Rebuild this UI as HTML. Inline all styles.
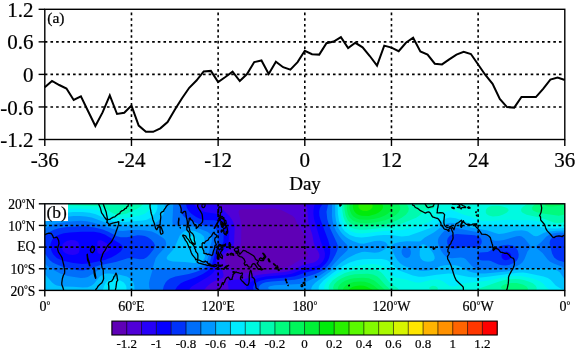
<!DOCTYPE html>
<html><head><meta charset="utf-8"><style>
html,body{margin:0;padding:0;background:#fff;}
svg{display:block;}
text{filter:grayscale(1);stroke:#000;stroke-width:0.22px;}
text[font-size="13"],text[font-size="13.6"],text[font-size="14"],text[font-size="17.5"]{stroke-width:0.2px;}
</style></head><body>
<svg width="575" height="351" viewBox="0 0 575 351">
<line x1="44.8" y1="41.85" x2="564.8" y2="41.85" stroke="#000" stroke-width="1.6" stroke-dasharray="2.6 3.05"/>
<line x1="44.8" y1="74.40" x2="564.8" y2="74.40" stroke="#000" stroke-width="1.6" stroke-dasharray="2.6 3.05"/>
<line x1="44.8" y1="106.95" x2="564.8" y2="106.95" stroke="#000" stroke-width="1.6" stroke-dasharray="2.6 3.05"/>
<line x1="131.47" y1="139.5" x2="131.47" y2="9.3" stroke="#000" stroke-width="1.6" stroke-dasharray="2.6 3.05"/>
<line x1="218.13" y1="139.5" x2="218.13" y2="9.3" stroke="#000" stroke-width="1.6" stroke-dasharray="2.6 3.05"/>
<line x1="304.80" y1="139.5" x2="304.80" y2="9.3" stroke="#000" stroke-width="1.6" stroke-dasharray="2.6 3.05"/>
<line x1="391.47" y1="139.5" x2="391.47" y2="9.3" stroke="#000" stroke-width="1.6" stroke-dasharray="2.6 3.05"/>
<line x1="478.13" y1="139.5" x2="478.13" y2="9.3" stroke="#000" stroke-width="1.6" stroke-dasharray="2.6 3.05"/>
<polyline points="44.80,87.30 52.02,81.00 59.24,85.00 66.47,88.50 73.69,100.00 80.91,96.40 88.13,111.20 95.36,126.00 102.58,112.40 109.80,95.30 117.02,114.00 124.24,112.80 131.47,105.60 138.69,125.60 145.91,131.80 153.13,131.80 160.36,128.30 167.58,122.00 174.80,109.70 182.02,98.30 189.24,87.80 196.47,80.50 203.69,71.40 210.91,70.90 218.13,82.00 225.36,77.00 232.58,71.70 239.80,81.00 247.02,74.00 254.24,62.10 261.47,60.50 268.69,74.00 275.91,61.70 283.13,67.20 290.36,69.70 297.58,62.10 304.80,50.80 312.02,54.20 319.24,54.60 326.47,43.20 333.69,41.60 340.91,37.10 348.13,48.00 355.36,42.80 362.58,47.30 369.80,56.00 377.02,65.60 384.24,45.60 391.47,47.60 398.69,51.20 405.91,42.80 413.13,37.80 420.36,51.40 427.58,54.60 434.80,63.70 442.02,64.40 449.24,59.40 456.47,54.60 463.69,51.90 470.91,54.00 478.13,64.50 485.36,75.00 492.58,83.80 499.80,98.90 507.02,107.10 514.24,107.60 521.47,96.90 528.69,96.90 535.91,97.10 543.13,88.80 550.36,79.60 557.58,77.60 564.80,80.00" fill="none" stroke="#000" stroke-width="2" stroke-linejoin="miter"/>
<rect x="44.8" y="9.3" width="520.0" height="130.2" fill="none" stroke="#000" stroke-width="1.4"/>
<line x1="38.599999999999994" y1="9.30" x2="44.8" y2="9.30" stroke="#000" stroke-width="1.4"/>
<text x="33.6" y="16.90" text-anchor="end" font-size="21" font-family="Liberation Serif, serif">1.2</text>
<line x1="38.599999999999994" y1="41.85" x2="44.8" y2="41.85" stroke="#000" stroke-width="1.4"/>
<text x="33.6" y="49.45" text-anchor="end" font-size="21" font-family="Liberation Serif, serif">0.6</text>
<line x1="38.599999999999994" y1="74.40" x2="44.8" y2="74.40" stroke="#000" stroke-width="1.4"/>
<text x="33.6" y="82.00" text-anchor="end" font-size="21" font-family="Liberation Serif, serif">0</text>
<line x1="38.599999999999994" y1="106.95" x2="44.8" y2="106.95" stroke="#000" stroke-width="1.4"/>
<text x="33.6" y="114.55" text-anchor="end" font-size="21" font-family="Liberation Serif, serif">-0.6</text>
<line x1="38.599999999999994" y1="139.50" x2="44.8" y2="139.50" stroke="#000" stroke-width="1.4"/>
<text x="33.6" y="147.10" text-anchor="end" font-size="21" font-family="Liberation Serif, serif">-1.2</text>
<line x1="44.80" y1="139.5" x2="44.80" y2="146.0" stroke="#000" stroke-width="1.4"/>
<text x="44.80" y="166.6" text-anchor="middle" font-size="21" font-family="Liberation Serif, serif">-36</text>
<line x1="131.47" y1="139.5" x2="131.47" y2="146.0" stroke="#000" stroke-width="1.4"/>
<text x="131.47" y="166.6" text-anchor="middle" font-size="21" font-family="Liberation Serif, serif">-24</text>
<line x1="218.13" y1="139.5" x2="218.13" y2="146.0" stroke="#000" stroke-width="1.4"/>
<text x="218.13" y="166.6" text-anchor="middle" font-size="21" font-family="Liberation Serif, serif">-12</text>
<line x1="304.80" y1="139.5" x2="304.80" y2="146.0" stroke="#000" stroke-width="1.4"/>
<text x="304.80" y="166.6" text-anchor="middle" font-size="21" font-family="Liberation Serif, serif">0</text>
<line x1="391.47" y1="139.5" x2="391.47" y2="146.0" stroke="#000" stroke-width="1.4"/>
<text x="391.47" y="166.6" text-anchor="middle" font-size="21" font-family="Liberation Serif, serif">12</text>
<line x1="478.13" y1="139.5" x2="478.13" y2="146.0" stroke="#000" stroke-width="1.4"/>
<text x="478.13" y="166.6" text-anchor="middle" font-size="21" font-family="Liberation Serif, serif">24</text>
<line x1="564.80" y1="139.5" x2="564.80" y2="146.0" stroke="#000" stroke-width="1.4"/>
<text x="564.80" y="166.6" text-anchor="middle" font-size="21" font-family="Liberation Serif, serif">36</text>
<text x="305" y="190.4" text-anchor="middle" font-size="19" font-family="Liberation Serif, serif">Day</text>
<text x="47.2" y="23.4" font-size="15.6" font-family="Liberation Serif, serif">(a)</text>
<defs><clipPath id="mc"><rect x="44.8" y="203.8" width="520.0" height="86.59999999999997"/></clipPath></defs>
<g clip-path="url(#mc)">
<rect x="44.8" y="203.8" width="520.0" height="86.59999999999997" fill="#5f00b6"/>
<path fill="#5000d7" fill-rule="evenodd" d="M564.8,290.5 44.8,290.5 44.7,203.8 564.8,203.7 564.8,290.5Z M250.2,272.5 260.8,270.8 281.8,268.5 286.5,267.5 291.0,265.5 299.8,260.1 305.6,257.6 307.8,255.7 307.9,253.6 305.3,248.6 304.7,246.6 305.1,238.6 304.2,234.7 302.8,232.0 298.1,225.7 294.8,218.1 292.8,215.9 281.8,210.2 275.8,208.7 270.8,208.6 257.8,209.3 242.8,209.2 240.1,209.8 238.8,210.8 238.6,212.8 240.7,220.7 241.4,226.7 241.1,242.6 240.5,246.6 239.0,249.6 236.8,251.5 228.7,255.6 226.0,257.6 224.9,259.5 225.0,261.5 226.0,263.5 228.8,266.2 232.8,268.9 236.8,270.9 242.8,272.7 245.8,272.9 250.2,272.5Z"/>
<path fill="#2600f8" fill-rule="evenodd" d="M202.8,290.4 44.8,290.5 44.7,203.8 218.1,203.8 220.1,206.8 229.8,216.6 232.0,219.7 233.5,222.7 234.4,225.7 234.7,228.7 234.0,243.6 233.4,245.6 231.8,248.0 230.0,249.6 222.6,254.6 220.8,256.6 219.8,258.5 219.4,260.5 219.7,263.5 222.7,271.5 223.5,274.5 223.4,276.5 222.8,277.4 221.1,278.5 214.8,281.0 210.8,283.3 207.0,286.4 203.7,290.4 202.8,290.4Z M564.8,290.5 228.8,290.4 227.8,283.4 228.0,281.4 228.8,280.4 230.8,279.7 242.8,279.5 246.8,278.5 255.8,275.5 260.8,274.4 282.8,272.2 288.8,271.2 293.7,269.5 302.8,265.1 313.8,262.4 315.9,261.5 317.8,260.1 319.3,257.6 319.4,254.6 318.2,251.6 315.0,246.6 313.9,243.6 312.3,234.7 308.3,222.7 307.1,207.8 306.4,205.8 304.8,203.8 564.8,203.7 564.8,290.5Z"/>
<path fill="#0500ff" fill-rule="evenodd" d="M188.8,290.4 44.8,290.4 44.7,203.8 193.7,203.8 197.0,207.8 201.8,211.0 205.8,212.3 215.8,213.8 220.8,216.0 223.8,218.3 225.8,220.4 227.4,222.7 228.7,225.7 229.1,229.7 228.8,240.6 228.0,244.6 225.9,247.6 219.9,252.6 217.6,255.6 216.1,259.5 215.2,268.5 214.6,270.5 213.3,272.5 211.3,274.5 207.8,277.0 191.7,286.4 189.8,288.4 189.2,290.4 188.8,290.4Z M564.8,290.4 247.0,290.4 246.1,288.4 246.5,286.4 248.9,283.4 253.0,280.4 257.8,278.3 265.8,276.4 284.8,274.9 291.8,273.7 304.8,268.7 316.8,266.0 319.8,264.4 322.8,261.5 324.7,257.6 325.0,253.6 324.3,250.6 320.7,241.6 314.0,218.7 313.4,213.8 313.5,209.8 314.2,205.8 315.2,203.8 564.8,203.7 564.8,290.4Z M75.8,254.6 78.0,253.6 78.9,252.6 79.4,250.6 79.1,244.6 78.4,242.6 77.5,241.6 74.8,240.3 70.8,240.1 66.8,241.1 63.8,243.0 62.6,244.6 61.9,247.6 62.2,249.6 63.8,252.0 66.1,253.6 68.8,254.5 72.8,254.9 75.8,254.6Z M103.3,253.6 105.9,252.6 108.9,250.6 110.4,248.6 110.2,246.6 108.5,244.6 103.8,241.4 100.8,240.3 98.8,240.4 97.8,241.0 97.3,242.6 97.6,246.6 97.3,250.6 97.5,252.6 98.6,253.6 99.8,253.9 103.3,253.6Z"/>
<path fill="#0032fa" fill-rule="evenodd" d="M173.8,290.4 44.8,290.4 44.7,203.8 185.9,203.8 186.9,207.8 188.8,211.1 191.4,213.8 195.8,216.8 199.8,218.7 202.8,219.7 205.8,220.1 214.8,220.3 218.9,221.7 221.8,224.4 223.3,227.7 223.7,231.7 223.5,241.6 222.0,245.6 216.8,251.4 214.9,254.6 212.0,264.5 210.6,267.5 207.8,270.7 202.8,273.9 195.8,277.2 184.3,281.4 180.8,283.3 177.2,286.4 174.8,290.4 173.8,290.4Z M564.8,290.4 253.9,290.4 253.3,289.4 253.0,287.4 253.8,285.4 255.5,283.4 257.8,281.8 260.8,280.4 267.8,278.9 286.8,277.5 294.8,276.2 305.8,272.5 317.8,269.4 321.8,267.2 325.8,263.5 327.9,260.5 329.2,257.6 330.1,253.6 330.2,249.6 329.6,245.6 328.3,240.6 320.5,219.7 319.4,215.7 319.2,211.8 319.7,208.8 320.6,206.8 322.9,203.8 564.8,203.7 564.8,290.4Z M88.4,263.5 104.8,259.9 111.8,257.2 116.6,254.6 120.7,251.6 122.7,248.6 122.7,246.6 121.8,245.2 119.9,243.6 104.8,234.6 99.8,232.7 93.8,231.8 81.8,231.7 69.8,232.5 63.8,233.3 59.8,234.4 56.9,235.7 54.1,237.6 52.4,239.6 50.6,243.6 50.3,245.6 50.7,248.6 51.7,251.6 53.3,254.6 56.8,258.0 62.8,260.7 71.8,262.7 81.8,264.0 88.4,263.5Z M509.0,259.5 510.3,258.5 511.3,256.6 511.1,254.6 509.8,252.8 506.8,251.5 504.8,251.8 502.8,252.9 501.8,254.2 501.4,255.6 501.7,257.6 502.4,258.5 503.8,259.7 505.8,260.2 509.0,259.5Z"/>
<path fill="#006efa" fill-rule="evenodd" d="M161.8,290.4 44.8,290.4 44.8,253.4 49.8,260.2 52.7,262.5 55.8,264.1 61.8,266.4 70.8,268.8 77.8,270.2 82.8,270.4 87.8,269.5 99.8,265.2 115.8,262.1 127.8,258.2 131.8,257.9 139.8,259.2 143.8,258.9 146.8,257.3 149.8,254.2 154.2,248.6 155.0,245.6 153.7,242.6 151.0,239.6 147.8,237.2 144.8,235.9 141.8,235.4 137.8,235.3 126.8,237.3 120.8,237.3 116.8,236.2 108.4,231.7 102.8,229.4 94.8,227.4 86.8,226.3 79.8,226.2 69.8,226.8 62.8,227.5 57.8,228.5 54.0,229.7 50.8,231.3 47.8,233.4 44.8,236.3 44.8,203.8 179.9,203.8 180.3,208.8 181.4,212.8 183.2,215.7 185.5,217.7 191.1,220.7 198.8,224.0 203.8,225.5 211.8,226.8 213.8,227.5 215.6,228.7 217.0,230.7 217.8,233.5 218.2,238.6 218.0,241.6 217.0,244.6 212.9,251.6 209.9,261.5 207.6,265.5 203.8,268.7 195.8,272.1 188.8,274.1 175.4,276.5 170.0,278.5 167.3,280.4 165.6,282.4 163.8,286.1 162.7,290.4 161.8,290.4Z M564.8,290.4 260.0,290.4 259.1,289.4 258.7,287.4 259.7,285.4 260.8,284.4 262.8,283.3 265.8,282.3 271.8,281.4 294.8,279.7 300.8,278.4 313.8,274.4 318.8,272.5 322.4,270.5 326.3,267.5 329.2,264.5 332.2,260.5 335.5,254.6 337.2,250.6 337.9,247.6 337.7,245.6 336.7,242.6 329.8,227.7 327.2,218.7 326.5,211.8 328.3,203.8 564.8,203.7 564.8,236.3 562.8,235.5 559.8,235.2 556.3,235.7 553.8,236.6 552.2,237.6 550.6,239.6 549.8,241.6 549.6,243.6 552.1,253.6 554.2,257.6 556.7,259.5 558.7,260.5 564.8,262.3 564.8,290.4Z M456.4,248.6 464.8,247.0 474.8,247.5 477.8,247.3 479.8,246.1 481.5,243.6 481.8,241.6 481.4,239.6 480.1,237.6 478.8,236.6 474.8,235.3 456.8,234.1 451.8,234.8 449.8,235.8 447.8,238.2 447.1,240.6 447.3,243.6 448.8,246.6 450.8,248.2 452.8,248.8 456.4,248.6Z M505.7,265.5 509.8,264.8 513.8,263.1 516.9,260.5 518.4,257.6 518.7,254.6 517.8,250.6 515.8,247.5 512.8,245.4 507.8,244.7 501.8,245.6 496.1,247.6 487.8,252.1 479.8,252.6 478.8,253.4 478.2,254.6 477.8,256.6 478.5,258.5 479.4,259.5 480.8,260.3 482.8,260.6 488.8,260.4 490.8,261.0 498.4,264.5 501.8,265.3 505.7,265.5Z"/>
<path fill="#0096ff" fill-rule="evenodd" d="M190.8,268.6 183.8,269.0 168.8,268.7 152.8,269.0 152.6,268.5 155.6,258.5 157.8,255.3 165.0,247.6 165.9,245.6 166.2,243.6 165.5,240.6 163.8,238.6 156.7,233.7 151.8,231.5 145.8,230.4 138.8,229.9 131.8,230.0 122.8,230.9 118.8,230.7 92.8,222.6 86.8,221.3 80.8,220.8 69.8,221.4 56.8,223.4 49.8,225.6 44.8,228.9 44.8,203.8 173.3,203.8 172.4,221.7 172.7,223.7 173.2,224.7 173.8,225.1 175.8,225.5 181.8,224.9 186.8,225.1 194.8,226.9 207.4,231.7 210.0,233.7 211.6,236.6 211.9,238.6 211.7,241.6 209.7,248.6 208.2,257.6 206.6,261.5 204.8,263.7 201.8,265.8 196.8,267.5 190.8,268.6Z M564.8,290.4 275.9,290.4 269.9,289.4 268.3,288.4 268.1,287.4 269.8,286.3 274.8,285.2 299.8,284.0 303.8,282.9 308.8,280.8 319.8,275.4 327.2,270.5 331.7,266.5 339.8,257.6 347.2,250.6 348.2,248.6 348.0,246.6 346.7,244.6 341.8,239.5 338.8,235.6 335.8,230.7 333.8,225.7 332.5,220.7 331.9,215.7 332.1,203.8 564.8,203.7 564.8,233.0 560.8,232.6 556.8,232.8 552.8,233.5 549.5,234.7 546.4,236.6 540.8,242.5 537.0,245.6 536.1,246.6 536.0,247.6 542.8,253.3 547.6,259.5 549.8,261.5 553.6,263.5 561.6,266.5 564.8,268.8 564.8,290.4Z M508.7,268.5 512.9,267.5 516.8,266.1 519.8,264.5 522.3,262.5 524.3,259.5 527.5,251.6 530.6,247.6 530.7,246.6 530.1,245.6 524.8,238.8 521.8,236.4 519.8,236.0 516.8,236.2 503.8,240.0 498.8,240.8 494.8,240.8 491.8,239.8 485.4,234.7 480.8,232.7 465.8,230.1 456.8,228.1 452.8,227.7 448.8,228.4 444.8,230.6 441.5,233.7 438.8,237.6 438.1,239.6 437.9,242.6 439.4,247.6 441.6,251.6 443.8,254.6 445.8,256.4 447.8,257.5 451.8,258.2 460.8,257.4 463.8,258.0 465.8,259.3 471.8,266.0 474.3,267.5 477.8,268.7 481.8,269.1 491.8,268.7 501.8,269.0 508.7,268.5Z M408.6,257.6 409.8,256.4 410.8,253.9 410.9,251.6 410.3,249.6 409.7,248.6 407.8,247.4 405.8,247.1 403.8,247.7 402.6,248.6 401.6,250.6 401.6,252.6 402.2,254.6 403.7,256.6 405.1,257.6 406.8,258.0 408.6,257.6Z M149.8,290.4 44.8,290.4 44.8,263.1 46.8,265.6 49.8,267.9 60.8,273.8 67.8,275.9 80.8,277.9 84.8,277.8 87.8,276.9 97.7,270.5 100.8,269.2 104.8,268.4 109.8,268.2 122.8,269.0 151.8,268.8 152.7,269.5 149.7,279.5 148.9,283.4 149.2,287.4 150.5,290.4 149.8,290.4Z"/>
<path fill="#00c3ff" fill-rule="evenodd" d="M124.8,225.7 118.8,225.6 113.8,224.9 106.8,222.9 91.8,217.6 85.8,216.4 79.8,215.9 73.8,216.0 66.8,216.8 50.8,219.9 44.8,221.8 44.8,203.8 164.2,203.8 164.8,205.8 165.0,208.8 163.5,213.8 159.8,219.2 157.1,221.7 154.8,223.2 151.0,224.7 146.8,225.4 124.8,225.7Z M564.8,290.4 311.5,290.4 311.2,288.4 312.6,285.4 315.5,282.4 330.3,271.5 341.8,262.0 347.8,258.1 355.8,254.1 361.8,251.9 364.8,251.7 374.8,252.8 378.8,252.3 381.8,251.1 384.3,249.6 386.6,247.6 387.7,245.6 387.5,244.6 385.8,242.6 383.8,241.6 379.8,240.7 374.8,240.9 363.8,243.7 359.8,243.5 352.8,241.1 348.8,239.1 345.8,237.1 342.8,234.3 340.7,231.7 338.8,228.7 337.1,224.7 336.0,220.7 335.3,215.7 335.1,203.8 564.8,203.8 564.8,230.5 555.8,230.7 547.6,231.7 544.1,232.7 537.8,235.9 535.8,236.3 533.6,235.7 527.8,231.5 525.2,230.7 521.8,230.2 514.8,230.7 503.8,233.6 498.8,234.0 495.8,233.3 487.8,230.5 471.8,227.8 456.8,223.3 450.8,222.7 447.8,223.2 443.8,225.1 433.8,232.5 424.8,237.6 420.8,241.1 418.8,241.5 406.8,241.2 399.8,241.9 394.3,243.6 392.8,244.6 391.4,246.6 392.4,250.6 395.1,256.6 397.6,260.5 400.4,263.5 403.3,265.5 406.8,267.1 419.8,270.8 423.8,271.0 428.8,270.5 432.8,269.5 440.8,266.0 444.8,265.2 449.8,265.0 454.8,265.2 457.8,265.8 460.8,267.0 469.1,271.5 473.8,272.8 478.8,273.5 484.8,273.4 506.8,271.5 521.8,268.7 526.8,268.1 537.8,268.8 547.8,268.6 554.5,269.5 557.2,270.5 559.8,272.3 564.8,279.6 564.8,290.4Z M198.8,262.7 193.8,263.1 184.8,261.9 172.8,261.4 168.8,260.5 167.3,259.5 166.7,258.5 166.7,257.6 167.8,255.6 172.4,250.6 174.5,247.6 179.8,235.6 182.3,232.7 184.8,231.1 186.8,230.4 189.8,230.2 194.8,231.1 200.8,233.7 203.9,236.6 204.6,239.6 203.7,246.6 204.9,252.6 205.0,256.6 204.3,258.5 202.9,260.5 200.8,262.0 198.8,262.7Z M430.8,261.6 427.8,261.8 424.8,261.3 422.8,260.5 420.7,258.5 419.7,255.6 419.7,251.6 420.5,246.6 421.8,244.4 423.8,244.3 427.8,246.6 430.8,249.8 433.4,253.6 434.6,256.6 434.7,258.5 433.6,260.5 430.8,261.6Z M133.8,290.4 44.8,290.4 44.8,274.0 52.1,282.4 54.7,284.4 56.8,285.4 62.2,286.4 72.8,286.7 82.8,287.6 87.8,287.2 91.8,285.5 94.2,283.4 99.8,276.6 103.8,274.1 106.8,273.5 109.8,273.4 119.8,274.7 126.8,276.6 129.8,278.2 131.8,279.9 133.4,282.4 134.3,285.4 134.5,289.4 134.4,290.4 133.8,290.4Z"/>
<path fill="#00ebff" fill-rule="evenodd" d="M126.8,221.7 119.8,222.0 113.8,221.3 107.8,219.4 95.8,214.2 89.8,212.8 82.8,212.0 72.8,211.9 52.8,214.6 47.8,214.9 44.8,214.6 44.8,203.8 157.3,203.8 157.5,207.8 156.2,211.8 153.2,215.7 149.8,218.3 146.7,219.7 142.8,220.6 126.8,221.7Z M368.8,236.8 361.8,237.6 355.8,237.1 349.8,235.0 344.8,231.3 341.3,226.7 339.0,220.7 337.9,213.8 337.6,203.8 564.8,203.8 564.8,228.1 555.8,228.5 546.8,228.2 542.8,227.5 535.8,225.4 531.8,225.0 516.8,225.6 498.8,225.3 485.8,225.8 479.8,225.6 472.8,224.3 455.8,218.3 449.8,217.6 446.8,218.2 443.8,219.5 433.8,226.1 429.8,228.2 408.8,235.8 401.8,236.4 390.8,235.1 383.8,234.9 376.8,235.5 368.8,236.8Z M190.8,247.1 188.8,247.0 187.0,245.6 186.1,243.6 185.9,241.6 186.2,239.6 187.3,237.6 188.8,236.5 190.8,236.0 193.8,236.7 195.0,237.6 195.8,239.6 195.4,241.6 193.8,244.6 192.8,245.8 190.8,247.1Z M563.8,290.4 319.2,290.4 318.6,288.4 318.9,286.4 319.9,284.4 323.4,280.4 332.8,273.0 343.8,265.6 349.8,262.6 356.8,260.3 362.8,259.2 368.8,258.9 381.8,259.1 386.8,260.0 389.8,261.9 395.8,268.0 399.3,270.5 412.8,275.4 418.8,276.8 423.8,276.8 436.8,274.7 448.8,273.5 452.8,273.8 468.8,276.9 474.8,277.4 480.8,277.4 487.8,276.8 517.8,272.8 522.8,272.6 526.8,273.0 543.6,276.5 547.8,277.9 550.8,280.0 555.7,285.4 558.8,287.4 564.8,290.4 563.8,290.4Z M125.8,290.4 102.6,290.4 104.7,284.4 106.8,281.6 109.8,279.9 113.8,279.3 116.8,279.5 119.8,280.3 123.8,282.6 125.4,284.4 126.3,286.4 126.6,289.4 126.4,290.4 125.8,290.4Z M44.8,290.4 44.8,290.4Z"/>
<path fill="#00fae1" fill-rule="evenodd" d="M127.8,217.8 120.8,218.6 114.8,218.0 109.8,216.3 99.8,210.9 95.8,209.8 91.8,209.2 74.8,208.4 54.8,209.7 47.8,209.3 44.8,208.6 44.8,203.8 151.6,203.8 150.9,206.8 149.3,209.8 147.5,211.8 144.8,213.7 139.8,215.5 127.8,217.8Z M369.8,232.8 361.8,233.5 355.8,233.0 350.8,231.3 346.8,228.6 343.6,224.7 341.2,218.7 340.1,211.8 339.9,203.8 449.3,203.8 450.8,204.5 453.8,204.8 463.7,203.8 470.6,203.8 474.8,204.4 478.1,203.8 564.8,203.8 564.8,225.4 562.8,225.9 557.8,226.2 551.6,225.7 547.7,224.7 538.8,221.4 531.8,220.3 520.8,220.3 508.8,219.8 490.8,221.1 481.8,220.8 477.9,219.7 470.8,216.4 463.8,214.7 453.8,210.7 450.8,210.1 448.8,210.4 444.8,212.3 428.8,222.3 420.8,225.3 402.8,230.0 383.8,231.1 369.8,232.8Z M549.8,290.4 324.7,290.4 323.9,287.4 324.4,285.4 325.5,283.4 329.8,278.8 336.8,273.7 344.8,269.3 349.8,267.3 355.8,265.9 365.8,264.5 372.8,264.1 378.8,264.7 383.8,266.5 386.8,268.8 392.7,275.5 395.8,277.4 398.8,278.3 405.8,279.6 415.8,282.4 420.8,282.4 430.8,280.0 436.8,279.6 439.8,280.1 442.8,281.3 449.8,285.9 453.8,286.5 456.8,286.0 462.8,283.8 466.8,282.9 485.8,280.9 506.8,276.7 514.8,276.0 520.8,276.0 529.8,277.7 535.6,279.5 539.8,281.3 543.0,283.4 547.8,288.8 550.4,290.4 549.8,290.4Z M116.8,290.4 114.4,290.4 114.4,289.4 114.8,288.8 116.1,288.4 117.2,289.4 116.8,290.4Z"/>
<path fill="#00faaf" fill-rule="evenodd" d="M120.8,214.8 116.8,214.6 113.8,213.7 110.3,211.8 104.8,207.7 102.8,206.8 99.8,206.2 62.8,205.3 44.8,203.8 143.6,203.8 140.4,206.8 135.1,209.8 126.8,213.5 120.8,214.8Z M365.8,229.7 359.8,229.8 354.8,229.0 350.8,227.4 347.4,224.7 344.8,220.8 343.3,216.7 342.3,210.8 342.1,203.8 420.4,203.8 422.8,204.2 423.9,203.8 434.8,203.8 435.2,205.8 434.9,206.8 432.8,208.7 424.8,210.6 419.1,215.7 416.2,217.7 400.8,224.0 395.7,225.7 389.8,226.9 365.8,229.7Z M561.8,222.8 557.8,223.1 554.5,222.7 541.8,218.1 526.6,214.7 522.6,212.8 521.5,211.8 521.0,209.8 521.3,208.8 522.9,206.8 527.5,203.8 564.8,203.8 564.8,221.8 561.8,222.8Z M498.8,215.9 492.8,216.4 488.8,215.6 486.8,214.3 485.8,212.8 485.9,209.8 487.4,207.8 489.0,206.8 491.8,206.0 494.8,205.7 498.9,205.8 502.8,206.4 506.6,207.8 507.9,208.8 508.6,209.8 508.5,210.8 506.6,212.8 502.6,214.7 498.8,215.9Z M398.8,290.4 329.3,290.4 328.5,287.4 329.4,284.4 332.8,280.3 337.8,276.7 344.8,273.1 349.8,271.4 354.8,270.4 371.8,269.1 376.8,269.9 380.8,272.0 383.3,274.5 388.8,281.5 391.8,284.2 397.8,288.3 399.3,290.4 398.8,290.4Z M535.8,290.4 478.1,290.4 478.8,289.1 481.9,287.4 499.2,281.4 506.8,279.6 514.8,279.0 519.8,279.3 523.8,280.0 528.6,281.4 532.8,283.3 535.5,285.4 536.7,287.4 536.6,289.4 535.8,290.4Z M436.8,290.0 433.8,290.4 430.8,289.7 429.2,288.4 429.4,287.4 430.7,286.4 432.8,285.8 435.8,286.2 437.4,287.4 437.9,288.4 437.8,289.4 436.8,290.0Z"/>
<path fill="#00fa7d" fill-rule="evenodd" d="M374.8,225.7 366.8,226.4 359.8,226.3 354.8,225.3 350.8,223.3 347.8,220.2 345.7,215.7 344.5,209.8 344.4,203.8 405.9,203.8 407.8,205.8 408.9,208.8 408.2,211.8 405.8,214.7 401.6,217.7 396.0,220.7 390.8,222.7 383.8,224.4 374.8,225.7Z M558.8,215.8 542.8,213.5 536.8,212.3 533.4,210.8 532.4,209.8 532.0,207.8 533.2,205.8 535.9,203.8 564.8,203.8 564.8,214.6 558.8,215.8Z M390.8,290.4 333.7,290.4 333.1,287.4 334.1,284.4 336.8,281.5 340.8,278.8 345.8,276.5 349.8,275.2 354.8,274.3 367.8,273.8 373.0,274.5 377.2,276.5 379.8,278.8 385.7,285.4 391.5,290.4 390.8,290.4Z M526.8,290.4 507.0,290.4 502.8,289.1 501.5,288.4 501.0,287.4 501.4,286.4 502.5,285.4 506.8,283.6 511.8,282.9 516.8,283.0 522.8,284.4 526.5,286.4 527.9,288.4 527.6,290.4 526.8,290.4Z"/>
<path fill="#00f55a" fill-rule="evenodd" d="M372.8,222.7 366.8,223.2 360.8,223.0 356.8,222.3 352.8,220.5 349.8,217.7 347.8,213.8 346.8,208.8 346.8,203.8 398.6,203.8 400.2,206.8 400.1,209.8 398.2,212.8 394.8,215.7 390.8,218.0 385.8,220.1 379.8,221.6 372.8,222.7Z M559.8,205.8 552.8,206.5 547.8,206.4 545.8,205.8 544.7,204.8 544.3,203.8 564.8,203.8 562.8,205.0 559.8,205.8Z M384.8,290.4 338.0,290.4 337.8,288.4 338.4,286.4 339.8,284.4 342.1,282.4 345.8,280.5 349.8,279.1 353.8,278.2 362.8,277.7 368.8,278.3 373.8,280.3 376.8,282.5 385.6,290.4 384.8,290.4Z"/>
<path fill="#00f037" fill-rule="evenodd" d="M367.8,219.8 359.8,219.4 356.8,218.5 353.7,216.7 351.8,214.7 350.0,210.8 349.4,207.8 349.6,203.8 391.5,203.8 392.3,206.8 391.9,208.8 390.0,211.8 387.7,213.8 384.4,215.7 379.3,217.7 373.8,219.1 367.8,219.8Z M379.8,290.4 342.6,290.4 343.8,287.3 345.7,285.4 347.8,284.1 353.8,282.1 359.8,281.4 364.8,281.8 369.8,283.3 373.8,285.6 379.8,290.4Z"/>
<path fill="#00eb0a" fill-rule="evenodd" d="M368.8,215.9 361.8,215.8 358.8,215.0 356.5,213.8 354.8,212.1 353.5,209.8 352.8,206.8 353.1,203.8 382.2,203.8 383.1,206.8 382.5,208.8 381.0,210.8 378.3,212.8 375.8,214.0 368.8,215.9Z M372.8,290.4 348.1,290.4 350.0,288.4 352.8,286.8 355.8,285.9 359.8,285.5 363.8,285.8 366.8,286.7 373.8,290.4 372.8,290.4Z"/>
<path fill="#28f000" fill-rule="evenodd" d="M366.8,210.9 362.8,210.8 359.8,209.3 358.3,206.8 358.7,203.8 371.7,203.8 372.7,205.8 372.3,207.8 370.2,209.8 366.8,210.9Z M361.8,290.4 359.1,290.4 362.5,290.4 361.8,290.4Z"/>
<path d="M44.8,235.0 46.5,233.9 48.7,233.2 51.3,233.5 52.7,235.6 53.5,237.8 54.9,237.6 56.8,237.1 57.8,238.7 58.7,240.8 59.0,243.9 58.2,246.2 57.5,248.8 58.5,252.1 60.8,255.5 62.1,257.9 62.6,260.3 63.9,265.5 64.2,267.7 64.7,270.5 64.6,273.1 63.4,275.2 62.4,278.5 61.8,282.8 61.8,284.6 62.9,287.4 64.0,291.5 64.4,293.6 M540.1,200.6 540.2,202.1 541.1,204.9 541.7,207.9 541.4,210.3 541.0,212.5 540.1,214.6 539.5,215.3 540.5,216.8 540.7,220.0 541.0,220.5 542.4,222.0 543.9,223.7 544.9,225.4 545.4,227.2 546.0,228.9 547.2,230.9 548.6,232.4 550.6,234.5 552.7,237.1 554.0,237.6 556.1,236.3 559.0,235.8 561.2,236.3 562.2,236.7 563.4,235.6 564.8,235.0 M98.2,200.6 98.5,203.8 100.4,208.1 101.6,212.9 102.9,214.6 104.3,216.8 105.9,219.0 107.2,220.3 107.3,221.3 106.6,222.2 107.6,222.6 109.1,224.6 110.5,223.9 112.7,223.1 114.9,222.6 117.0,222.2 118.8,221.6 118.6,224.4 118.2,225.4 117.6,227.6 116.3,230.9 115.3,234.1 114.1,236.7 112.7,239.5 111.2,242.1 109.8,243.4 107.6,245.8 106.2,248.2 104.9,250.6 103.7,252.1 102.7,254.0 102.0,256.6 101.4,257.7 100.8,261.2 101.7,262.7 101.6,265.1 102.1,267.7 103.2,269.8 103.3,271.6 103.4,275.2 103.6,278.5 103.2,280.0 101.9,282.8 99.7,284.6 98.2,285.9 97.1,287.8 95.8,289.5 95.1,291.0 95.6,293.6 M102.3,200.6 103.2,203.8 104.3,207.0 105.5,210.3 106.3,212.5 106.6,214.6 107.1,216.8 107.3,218.7 107.6,219.6 109.1,219.4 109.8,219.4 111.2,218.3 113.4,217.2 114.9,216.8 116.3,215.5 117.7,214.4 119.9,213.3 120.3,212.0 121.6,210.9 123.2,210.3 124.5,209.4 125.1,208.3 126.3,208.3 126.8,206.8 128.1,206.2 128.3,204.2 129.3,202.7 130.7,199.9 M121.8,219.8 122.8,219.6 123.5,220.0 122.5,220.5 121.8,219.8 M114.7,293.6 115.0,291.5 115.4,289.8 116.0,287.2 116.4,283.9 116.7,281.7 117.7,280.4 117.3,278.5 116.9,275.2 116.0,273.1 115.4,274.2 114.9,275.9 114.0,276.5 113.4,278.5 112.7,279.6 111.7,281.1 110.5,281.5 108.9,282.2 108.4,283.9 108.8,286.1 108.9,289.3 108.4,291.5 107.9,293.6 M90.7,249.3 91.5,246.7 92.8,246.2 94.1,247.1 94.1,248.2 94.6,249.7 93.6,251.6 92.5,252.7 91.0,252.1 90.4,250.3 90.7,249.3 M87.0,254.2 87.3,256.8 87.6,260.1 88.1,261.2 88.9,262.7 89.3,265.1 89.9,265.7 89.6,264.0 89.1,262.3 88.7,260.7 88.0,259.0 87.6,256.8 87.3,254.2 87.0,254.2 M94.2,267.7 94.5,269.8 94.8,272.0 95.2,274.2 95.8,277.4 95.6,278.3 94.8,276.3 94.3,274.2 94.1,272.0 93.9,269.8 93.8,267.9 94.2,267.7 M149.7,201.0 150.0,202.9 150.1,204.9 150.0,206.2 150.2,208.1 150.7,210.3 151.0,212.5 151.4,214.0 152.0,215.7 152.4,217.2 152.8,219.4 153.4,221.1 154.3,223.3 155.0,225.9 155.4,227.8 156.5,229.6 156.9,229.6 157.8,227.8 158.0,227.0 159.2,227.0 159.3,224.8 160.1,224.8 160.2,222.2 160.6,219.0 160.8,216.8 160.5,214.2 160.8,212.9 162.1,211.8 163.7,211.2 164.0,209.9 165.3,208.1 166.4,206.4 167.7,204.9 169.6,203.8 170.3,202.1 170.5,200.6 M160.2,225.9 160.8,226.5 161.7,228.5 162.4,230.6 163.0,232.2 162.7,233.5 161.2,234.3 160.4,233.0 160.1,230.9 160.1,229.1 160.2,225.9 M177.7,200.6 178.1,202.3 179.0,203.8 180.0,205.3 180.9,207.7 181.3,209.6 181.0,212.5 181.4,212.7 182.6,213.1 183.5,211.8 184.6,211.4 185.5,211.4 185.9,213.3 186.1,215.7 186.5,217.9 187.2,220.5 187.4,223.3 187.1,225.4 186.8,227.6 186.8,229.6 187.2,230.2 188.4,231.5 189.4,233.0 189.7,235.2 189.8,237.4 190.4,238.9 191.1,240.6 192.0,242.3 193.3,243.2 194.3,244.3 195.3,244.1 194.9,242.1 194.3,240.2 194.2,238.0 193.9,236.3 192.9,234.1 191.8,233.0 190.7,232.2 189.8,230.9 189.5,229.1 189.1,227.2 188.1,227.0 188.1,224.4 188.7,222.2 189.1,220.3 189.2,218.5 190.0,217.9 190.5,218.5 190.5,219.6 191.4,219.8 192.4,220.7 193.0,221.8 193.4,222.9 193.9,223.9 194.4,224.4 195.6,224.6 196.2,226.1 196.2,228.5 196.8,228.0 198.3,226.5 199.1,224.6 200.2,224.4 201.5,223.1 202.5,221.8 202.7,220.0 202.5,217.2 202.1,214.2 201.2,212.5 200.1,210.7 198.8,208.6 197.8,206.8 197.6,205.3 198.3,203.2 199.1,202.1 200.1,200.6 M203.1,200.3 203.5,201.6 203.8,202.7 204.1,203.4 204.6,203.2 204.4,201.2 205.9,200.3 M201.7,205.7 202.4,207.3 203.1,207.7 204.1,207.3 205.0,206.0 205.1,204.4 204.6,203.6 203.3,203.8 202.0,204.7 201.7,205.7 M178.8,217.7 179.1,219.4 178.7,221.1 178.6,222.6 178.7,224.2 178.4,224.4 178.3,222.4 178.6,220.0 178.8,217.7 M180.3,227.2 180.4,228.0 180.1,227.8 180.3,227.2 M182.5,235.0 183.3,235.2 185.6,235.8 186.8,237.8 188.8,240.2 190.1,242.6 191.1,242.8 192.1,243.9 193.4,245.4 194.7,247.1 194.6,248.4 195.5,249.5 195.7,251.4 196.5,252.3 197.6,253.6 197.9,255.8 197.8,259.7 196.9,259.2 195.9,259.9 195.0,257.9 193.6,256.4 192.4,254.9 191.3,252.7 190.4,250.1 189.7,248.2 188.8,246.7 187.9,244.5 187.4,243.2 186.5,241.5 185.6,240.6 184.8,239.1 183.9,237.4 182.7,235.8 182.5,235.0 M196.8,261.8 197.9,260.1 199.1,260.1 200.2,260.5 201.5,261.4 203.0,261.8 204.4,262.0 205.1,261.0 206.1,261.8 207.4,262.0 207.7,263.3 208.9,263.8 210.0,264.0 210.3,265.9 208.7,265.1 207.3,265.3 205.1,264.6 203.7,264.4 201.8,263.8 200.1,263.3 198.6,263.1 197.2,262.0 196.8,261.8 M210.2,264.6 211.9,265.3 211.2,266.2 210.2,265.3 210.2,264.6 M212.4,265.3 213.4,265.1 213.2,266.4 212.4,266.2 212.4,265.3 M213.5,265.5 215.0,264.6 216.7,265.1 217.0,265.9 215.7,266.4 214.1,266.6 213.5,265.5 M217.8,265.5 219.3,265.1 221.0,265.3 222.5,264.9 222.2,265.7 220.3,266.4 218.4,266.2 217.8,265.5 M216.7,267.9 218.1,267.5 219.3,269.0 218.4,269.4 217.0,268.3 216.7,267.9 M223.2,269.4 224.6,267.7 226.1,266.2 228.7,265.3 227.5,266.4 225.4,267.9 223.9,269.4 223.2,269.4 M202.2,243.0 203.1,242.6 204.3,243.4 205.4,241.5 206.4,240.8 208.0,240.2 209.3,237.8 210.3,237.1 211.5,236.1 212.4,234.3 213.4,232.6 214.1,232.2 214.8,234.1 215.7,234.5 217.1,235.8 216.0,237.4 215.0,238.0 214.7,240.0 215.2,242.1 216.5,244.9 215.1,245.4 214.5,247.1 214.4,248.8 213.5,250.8 213.1,252.5 212.6,254.7 211.6,255.5 210.3,254.9 208.7,254.2 207.3,254.5 206.1,253.4 205.1,253.6 204.0,253.4 203.8,251.0 203.0,249.3 202.4,247.7 202.1,246.2 202.2,243.0 M217.4,259.0 217.3,256.8 217.6,254.7 216.4,253.2 216.7,251.4 217.1,249.7 217.8,247.1 218.3,245.4 219.4,244.3 221.0,244.9 222.8,245.2 224.3,244.9 225.6,243.9 225.2,246.0 224.2,246.2 222.6,246.0 221.0,246.0 219.6,246.0 218.6,246.5 218.3,248.2 219.1,249.9 220.3,249.0 221.5,248.8 223.0,249.0 222.2,250.3 221.0,251.4 220.3,253.2 221.5,254.7 222.5,256.4 222.2,258.6 221.3,257.5 220.4,257.3 219.9,255.8 219.4,254.7 218.7,253.6 218.7,255.8 218.9,259.0 217.4,259.0 M229.5,242.3 230.1,243.9 230.7,244.9 230.0,245.8 230.7,246.5 229.7,247.5 230.3,248.8 229.3,248.0 229.1,246.0 229.0,243.9 229.5,242.3 M229.7,254.0 231.1,253.2 233.3,253.8 233.7,255.3 231.9,254.7 230.4,254.9 229.7,254.0 M226.8,254.2 227.7,253.6 228.5,254.5 228.0,255.3 226.9,255.1 226.8,254.2 M219.0,207.0 219.9,206.8 221.3,207.0 221.5,210.3 221.7,212.0 220.4,212.9 220.4,215.5 221.0,216.8 222.2,216.4 222.9,217.2 223.9,217.9 224.1,219.8 223.2,219.2 222.9,218.7 221.9,218.5 220.7,217.2 219.6,217.4 219.0,216.4 219.0,215.3 218.1,214.8 217.8,212.0 218.6,212.2 218.7,209.2 219.0,207.0 M218.6,217.9 219.9,218.1 220.4,220.0 219.9,220.7 219.3,220.0 218.6,217.9 M224.3,219.8 225.8,220.5 226.2,223.3 225.4,223.3 225.6,225.0 224.9,225.4 224.5,223.7 224.3,222.2 224.3,219.8 M220.9,221.3 222.3,222.2 222.6,223.3 221.7,224.2 220.9,224.4 220.9,221.3 M222.3,223.5 223.2,224.4 222.8,227.6 221.7,227.0 221.6,225.4 222.3,223.5 M222.9,222.9 223.9,224.4 223.2,226.5 222.9,222.9 M220.9,231.9 221.5,230.0 222.5,230.4 223.2,229.8 223.8,228.5 224.8,228.7 226.1,226.1 226.9,227.0 227.4,229.8 227.7,231.9 227.1,233.5 226.4,231.3 225.8,234.1 226.4,235.0 224.9,234.3 223.9,233.0 223.9,231.1 223.3,230.2 222.5,230.9 221.5,232.2 220.9,231.9 M214.1,228.9 215.2,227.2 216.3,225.7 217.1,224.6 217.7,222.6 217.4,222.6 216.5,224.4 215.4,226.1 214.2,228.3 214.1,228.9 M234.0,250.1 235.3,248.4 236.6,248.0 238.4,249.0 238.6,251.9 239.8,254.2 241.8,252.1 243.3,250.3 245.3,250.8 247.0,252.1 248.5,252.7 250.6,254.0 252.7,255.3 253.5,255.8 254.7,257.1 255.4,259.0 256.6,260.1 258.0,260.3 258.4,261.6 257.1,263.1 258.0,264.4 259.0,265.9 260.5,266.8 261.0,268.3 262.8,269.4 261.6,270.0 260.2,269.4 258.0,269.0 256.4,266.4 254.7,264.0 253.1,263.6 251.9,264.9 251.6,266.6 250.8,267.2 248.5,266.8 246.9,264.6 245.0,265.3 244.1,263.3 245.1,261.8 244.1,259.2 242.0,257.1 240.1,256.6 238.2,255.5 237.6,253.6 235.9,252.9 236.5,251.9 238.2,252.1 237.5,251.2 235.5,251.4 234.3,250.3 234.0,250.1 M259.0,259.0 260.7,257.9 262.6,259.0 263.6,257.7 264.6,256.4 264.6,257.9 263.5,260.5 261.8,260.5 260.0,260.3 259.0,259.0 M262.5,252.9 264.4,254.2 265.8,256.8 265.4,257.7 264.1,255.3 262.5,252.9 M268.1,258.4 269.1,259.2 270.0,261.8 269.1,261.6 268.3,259.9 268.1,258.4 M275.3,267.2 276.6,267.5 277.1,268.5 275.8,268.3 275.3,267.2 M276.8,265.3 277.6,266.4 278.1,268.1 277.2,267.2 276.8,265.3 M273.3,263.3 274.5,264.2 275.6,265.5 274.9,265.3 273.7,264.2 273.3,263.3 M277.8,269.2 279.4,270.0 278.8,270.5 277.9,269.8 277.8,269.2 M285.4,278.7 286.3,279.6 286.2,280.9 285.6,280.7 285.4,278.7 M286.3,281.5 287.2,282.4 286.9,283.0 286.5,282.4 286.3,281.5 M287.8,285.0 288.3,285.2 288.2,285.6 287.8,285.4 287.8,285.0 M300.8,285.2 301.9,284.6 302.9,285.4 302.6,286.5 301.3,286.5 300.8,285.2 M302.6,283.3 303.8,282.4 304.8,282.0 304.5,283.0 303.4,283.7 302.6,283.3 M315.2,276.3 316.1,276.3 316.4,277.0 315.6,277.0 315.2,276.3 M339.6,204.4 339.9,205.7 340.0,206.2 341.1,205.3 341.2,204.7 340.6,203.4 339.8,203.2 339.6,204.4 M281.1,290.6 282.1,291.0 283.9,293.2 285.3,295.2 284.6,295.4 282.4,293.0 281.1,290.6 M212.4,292.1 213.8,291.7 215.2,291.0 216.7,290.4 218.9,289.5 220.3,287.6 221.3,286.1 221.7,284.6 222.5,282.6 223.3,284.6 223.8,282.6 224.5,282.2 225.1,280.2 226.1,278.5 227.2,277.4 228.5,277.2 229.5,278.7 230.1,279.6 231.1,279.4 232.0,279.4 232.3,277.4 233.0,275.7 232.9,274.8 233.7,273.9 234.5,273.3 235.5,272.2 236.3,272.0 237.2,272.6 238.2,272.6 239.5,273.1 240.8,273.5 242.0,272.9 242.5,273.7 242.0,275.7 241.1,275.9 240.5,277.4 240.5,279.1 241.8,280.7 243.0,281.7 244.6,283.5 246.0,284.8 247.0,285.4 248.2,284.8 249.0,282.6 249.3,279.6 249.2,276.8 249.5,274.4 249.9,272.0 250.6,270.3 251.1,270.9 251.5,272.9 251.9,274.6 252.2,277.4 253.5,277.8 254.7,279.6 254.8,282.2 255.5,283.7 255.8,285.9 256.1,288.0 257.6,289.1 259.0,290.4 259.7,291.3 260.5,292.6 M232.6,272.2 233.3,271.6 234.7,271.8 234.5,272.6 233.2,272.6 232.6,272.2 M241.8,277.2 242.5,277.0 242.4,277.8 241.8,277.6 241.8,277.2 M412.4,200.6 412.1,202.9 412.7,205.1 414.1,205.7 415.3,207.5 417.5,208.3 420.5,210.7 423.2,212.0 425.4,213.1 427.3,212.2 429.0,212.0 430.5,213.3 431.6,215.5 432.6,216.8 435.5,217.9 437.7,218.5 438.4,219.0 439.9,221.1 441.0,223.1 441.0,224.4 440.9,225.4 442.0,225.9 442.6,226.3 444.0,228.7 444.9,229.3 446.4,229.3 447.8,230.6 448.7,231.3 449.2,230.9 448.5,229.6 450.0,227.8 451.4,228.5 451.7,230.0 452.4,231.5 453.0,233.0 452.9,235.2 453.1,237.8 452.7,239.5 451.3,241.9 450.8,243.6 449.2,245.4 448.7,248.0 447.9,249.5 447.9,251.9 449.4,252.5 448.8,254.5 447.5,256.4 447.7,259.0 449.0,261.2 450.0,263.3 451.4,266.6 452.6,270.5 453.4,273.3 454.7,277.0 456.2,280.2 458.8,282.8 461.7,285.4 463.3,287.2 463.4,290.4 463.5,292.6 M424.0,200.6 424.8,203.2 426.0,205.5 427.1,207.0 428.3,207.7 431.2,206.8 432.9,206.6 434.1,204.2 434.2,201.6 M439.1,200.6 438.4,203.4 438.0,207.0 437.4,209.2 437.3,212.0 437.0,212.9 438.4,212.9 440.6,212.7 443.0,212.9 444.6,214.6 444.2,217.9 443.9,221.1 443.9,223.3 444.6,225.4 445.6,226.5 447.1,227.6 449.2,227.0 450.7,226.3 452.1,227.2 453.3,228.5 453.9,229.8 454.7,227.0 455.7,224.4 456.8,223.3 458.6,222.6 460.5,221.1 461.4,220.3 462.1,221.6 461.5,223.3 461.4,223.7 462.1,223.3 463.0,222.2 463.4,220.7 464.0,222.2 466.3,224.4 468.7,224.2 470.9,225.2 472.4,224.2 475.2,223.9 474.5,225.0 476.7,227.6 478.1,228.9 480.3,231.9 481.7,234.1 485.4,234.3 486.8,234.8 489.0,236.3 490.4,237.8 491.1,240.6 491.9,243.2 492.6,244.9 492.6,247.1 493.3,248.2 494.7,248.8 496.2,248.4 498.4,249.3 500.5,252.1 502.7,252.5 504.9,253.4 507.0,253.2 509.2,255.1 511.1,257.5 513.5,258.4 514.0,259.7 514.4,262.3 514.4,264.4 513.8,266.6 513.2,268.1 512.1,270.0 511.1,271.6 509.2,275.2 508.5,277.4 508.5,280.7 508.2,283.9 507.5,287.2 507.0,289.3 506.3,291.5 505.9,293.6 M461.2,223.7 461.7,225.0 462.0,226.5 461.4,227.4 460.8,227.0 460.7,225.4 461.2,223.7 M493.4,247.5 494.7,247.3 494.6,249.3 493.3,250.6 492.9,249.3 493.4,247.5 M444.9,199.9 447.8,200.3 450.0,200.8 451.4,202.3 452.6,204.1 453.6,204.0 455.0,204.0 456.5,203.8 457.8,203.4 457.2,202.3 455.7,201.2 453.6,200.6 M451.6,207.0 452.6,207.3 453.7,207.7 454.4,208.1 453.9,208.8 453.0,208.3 451.8,207.7 451.6,207.0 M457.3,204.0 458.2,204.4 460.1,204.0 461.2,204.4 462.8,205.5 464.1,206.0 465.7,207.0 465.7,207.7 464.6,207.7 463.0,207.5 461.8,207.7 461.1,209.0 460.5,208.1 459.6,207.7 458.5,207.7 457.3,207.3 458.3,206.8 459.8,207.0 459.9,206.0 459.1,204.9 457.3,204.0 M467.7,207.0 468.5,207.0 469.9,207.3 470.0,208.1 468.5,208.3 467.7,207.7 467.7,207.0 M475.7,211.6 476.3,211.8 476.1,212.7 475.7,212.5 475.7,211.6 M476.4,214.8 477.0,215.3 476.8,215.9 476.4,215.5 476.4,214.8 M475.7,223.7 476.8,223.9 476.7,225.2 475.7,225.2 476.0,224.4 475.7,223.7 M432.9,247.7 433.4,246.9 433.8,248.2 433.4,249.3 432.9,247.7 M434.2,248.2 434.8,248.0 434.8,248.8 434.2,248.6 434.2,248.2 M348.6,285.0 349.3,285.2 349.0,285.9 348.6,285.0" fill="none" stroke="#000" stroke-width="1.3" stroke-linejoin="round"/>
</g>
<line x1="44.8" y1="225.45" x2="564.8" y2="225.45" stroke="#000" stroke-width="1.6" stroke-dasharray="2.8 2.562" stroke-dashoffset="1.1"/>
<line x1="44.8" y1="247.10" x2="564.8" y2="247.10" stroke="#000" stroke-width="1.6" stroke-dasharray="2.8 2.562" stroke-dashoffset="1.1"/>
<line x1="44.8" y1="268.75" x2="564.8" y2="268.75" stroke="#000" stroke-width="1.6" stroke-dasharray="2.8 2.562" stroke-dashoffset="1.1"/>
<line x1="131.47" y1="290.4" x2="131.47" y2="203.8" stroke="#000" stroke-width="1.6" stroke-dasharray="2.8 2.5" stroke-dashoffset="0.9"/>
<line x1="218.13" y1="290.4" x2="218.13" y2="203.8" stroke="#000" stroke-width="1.6" stroke-dasharray="2.8 2.5" stroke-dashoffset="0.9"/>
<line x1="304.80" y1="290.4" x2="304.80" y2="203.8" stroke="#000" stroke-width="1.6" stroke-dasharray="2.8 2.5" stroke-dashoffset="0.9"/>
<line x1="391.47" y1="290.4" x2="391.47" y2="203.8" stroke="#000" stroke-width="1.6" stroke-dasharray="2.8 2.5" stroke-dashoffset="0.9"/>
<line x1="478.13" y1="290.4" x2="478.13" y2="203.8" stroke="#000" stroke-width="1.6" stroke-dasharray="2.8 2.5" stroke-dashoffset="0.9"/>
<rect x="44.8" y="203.8" width="23.2" height="17.2" fill="#fff"/>
<text x="46.5" y="218.3" font-size="17.5" font-family="Liberation Serif, serif">(b)</text>
<rect x="44.8" y="203.8" width="520.0" height="86.59999999999997" fill="none" stroke="#000" stroke-width="1.4"/>
<line x1="38.8" y1="203.80" x2="44.8" y2="203.80" stroke="#000" stroke-width="1.4"/>
<text x="35.4" y="209.20" text-anchor="end" font-size="13.6" font-family="Liberation Serif, serif">20<tspan font-size="9.5" dy="-2.4">°</tspan><tspan dy="2.4">N</tspan></text>
<line x1="38.8" y1="225.45" x2="44.8" y2="225.45" stroke="#000" stroke-width="1.4"/>
<text x="35.4" y="230.85" text-anchor="end" font-size="13.6" font-family="Liberation Serif, serif">10<tspan font-size="9.5" dy="-2.4">°</tspan><tspan dy="2.4">N</tspan></text>
<line x1="38.8" y1="247.10" x2="44.8" y2="247.10" stroke="#000" stroke-width="1.4"/>
<text x="35.4" y="251.30" text-anchor="end" font-size="13.6" font-family="Liberation Serif, serif">EQ</text>
<line x1="38.8" y1="268.75" x2="44.8" y2="268.75" stroke="#000" stroke-width="1.4"/>
<text x="35.4" y="274.15" text-anchor="end" font-size="13.6" font-family="Liberation Serif, serif">10<tspan font-size="9.5" dy="-2.4">°</tspan><tspan dy="2.4">S</tspan></text>
<line x1="38.8" y1="290.40" x2="44.8" y2="290.40" stroke="#000" stroke-width="1.4"/>
<text x="35.4" y="295.80" text-anchor="end" font-size="13.6" font-family="Liberation Serif, serif">20<tspan font-size="9.5" dy="-2.4">°</tspan><tspan dy="2.4">S</tspan></text>
<line x1="44.80" y1="290.4" x2="44.80" y2="296.4" stroke="#000" stroke-width="1.4"/>
<text x="44.80" y="311" text-anchor="middle" font-size="14" font-family="Liberation Serif, serif">0<tspan font-size="9.5" dy="-2.4">°</tspan></text>
<line x1="131.47" y1="290.4" x2="131.47" y2="296.4" stroke="#000" stroke-width="1.4"/>
<text x="131.47" y="311" text-anchor="middle" font-size="14" font-family="Liberation Serif, serif">60<tspan font-size="9.5" dy="-2.4">°</tspan><tspan dy="2.4">E</tspan></text>
<line x1="218.13" y1="290.4" x2="218.13" y2="296.4" stroke="#000" stroke-width="1.4"/>
<text x="218.13" y="311" text-anchor="middle" font-size="14" font-family="Liberation Serif, serif">120<tspan font-size="9.5" dy="-2.4">°</tspan><tspan dy="2.4">E</tspan></text>
<line x1="304.80" y1="290.4" x2="304.80" y2="296.4" stroke="#000" stroke-width="1.4"/>
<text x="304.80" y="311" text-anchor="middle" font-size="14" font-family="Liberation Serif, serif">180<tspan font-size="9.5" dy="-2.4">°</tspan></text>
<line x1="391.47" y1="290.4" x2="391.47" y2="296.4" stroke="#000" stroke-width="1.4"/>
<text x="391.47" y="311" text-anchor="middle" font-size="14" font-family="Liberation Serif, serif">120<tspan font-size="9.5" dy="-2.4">°</tspan><tspan dy="2.4">W</tspan></text>
<line x1="478.13" y1="290.4" x2="478.13" y2="296.4" stroke="#000" stroke-width="1.4"/>
<text x="478.13" y="311" text-anchor="middle" font-size="14" font-family="Liberation Serif, serif">60<tspan font-size="9.5" dy="-2.4">°</tspan><tspan dy="2.4">W</tspan></text>
<line x1="564.80" y1="290.4" x2="564.80" y2="296.4" stroke="#000" stroke-width="1.4"/>
<text x="564.80" y="311" text-anchor="middle" font-size="14" font-family="Liberation Serif, serif">0<tspan font-size="9.5" dy="-2.4">°</tspan></text>
<rect x="111.90" y="321.1" width="15.12" height="13.899999999999977" fill="#5f00b6"/>
<rect x="126.72" y="321.1" width="15.12" height="13.899999999999977" fill="#5000d7"/>
<rect x="141.54" y="321.1" width="15.12" height="13.899999999999977" fill="#2600f8"/>
<rect x="156.36" y="321.1" width="15.12" height="13.899999999999977" fill="#0500ff"/>
<rect x="171.18" y="321.1" width="15.12" height="13.899999999999977" fill="#0032fa"/>
<rect x="186.00" y="321.1" width="15.12" height="13.899999999999977" fill="#006efa"/>
<rect x="200.82" y="321.1" width="15.12" height="13.899999999999977" fill="#0096ff"/>
<rect x="215.63" y="321.1" width="15.12" height="13.899999999999977" fill="#00c3ff"/>
<rect x="230.45" y="321.1" width="15.12" height="13.899999999999977" fill="#00ebff"/>
<rect x="245.27" y="321.1" width="15.12" height="13.899999999999977" fill="#00fae1"/>
<rect x="260.09" y="321.1" width="15.12" height="13.899999999999977" fill="#00faaf"/>
<rect x="274.91" y="321.1" width="15.12" height="13.899999999999977" fill="#00fa7d"/>
<rect x="289.73" y="321.1" width="15.12" height="13.899999999999977" fill="#00f55a"/>
<rect x="304.55" y="321.1" width="15.12" height="13.899999999999977" fill="#00f037"/>
<rect x="319.37" y="321.1" width="15.12" height="13.899999999999977" fill="#00eb0a"/>
<rect x="334.19" y="321.1" width="15.12" height="13.899999999999977" fill="#28f000"/>
<rect x="349.01" y="321.1" width="15.12" height="13.899999999999977" fill="#5afa00"/>
<rect x="363.83" y="321.1" width="15.12" height="13.899999999999977" fill="#82fa00"/>
<rect x="378.65" y="321.1" width="15.12" height="13.899999999999977" fill="#aafa00"/>
<rect x="393.47" y="321.1" width="15.12" height="13.899999999999977" fill="#d7f500"/>
<rect x="408.28" y="321.1" width="15.12" height="13.899999999999977" fill="#ffe600"/>
<rect x="423.10" y="321.1" width="15.12" height="13.899999999999977" fill="#ffb400"/>
<rect x="437.92" y="321.1" width="15.12" height="13.899999999999977" fill="#ff9100"/>
<rect x="452.74" y="321.1" width="15.12" height="13.899999999999977" fill="#ff6400"/>
<rect x="467.56" y="321.1" width="15.12" height="13.899999999999977" fill="#ff3700"/>
<rect x="482.38" y="321.1" width="15.12" height="13.899999999999977" fill="#ff0000"/>
<line x1="126.72" y1="321.1" x2="126.72" y2="335.0" stroke="#000" stroke-width="0.75" stroke-opacity="0.8"/>
<line x1="141.54" y1="321.1" x2="141.54" y2="335.0" stroke="#000" stroke-width="0.75" stroke-opacity="0.8"/>
<line x1="156.36" y1="321.1" x2="156.36" y2="335.0" stroke="#000" stroke-width="0.75" stroke-opacity="0.8"/>
<line x1="171.18" y1="321.1" x2="171.18" y2="335.0" stroke="#000" stroke-width="0.75" stroke-opacity="0.8"/>
<line x1="186.00" y1="321.1" x2="186.00" y2="335.0" stroke="#000" stroke-width="0.75" stroke-opacity="0.8"/>
<line x1="200.82" y1="321.1" x2="200.82" y2="335.0" stroke="#000" stroke-width="0.75" stroke-opacity="0.8"/>
<line x1="215.63" y1="321.1" x2="215.63" y2="335.0" stroke="#000" stroke-width="0.75" stroke-opacity="0.8"/>
<line x1="230.45" y1="321.1" x2="230.45" y2="335.0" stroke="#000" stroke-width="0.75" stroke-opacity="0.8"/>
<line x1="245.27" y1="321.1" x2="245.27" y2="335.0" stroke="#000" stroke-width="0.75" stroke-opacity="0.8"/>
<line x1="260.09" y1="321.1" x2="260.09" y2="335.0" stroke="#000" stroke-width="0.75" stroke-opacity="0.8"/>
<line x1="274.91" y1="321.1" x2="274.91" y2="335.0" stroke="#000" stroke-width="0.75" stroke-opacity="0.8"/>
<line x1="289.73" y1="321.1" x2="289.73" y2="335.0" stroke="#000" stroke-width="0.75" stroke-opacity="0.8"/>
<line x1="304.55" y1="321.1" x2="304.55" y2="335.0" stroke="#000" stroke-width="0.75" stroke-opacity="0.8"/>
<line x1="319.37" y1="321.1" x2="319.37" y2="335.0" stroke="#000" stroke-width="0.75" stroke-opacity="0.8"/>
<line x1="334.19" y1="321.1" x2="334.19" y2="335.0" stroke="#000" stroke-width="0.75" stroke-opacity="0.8"/>
<line x1="349.01" y1="321.1" x2="349.01" y2="335.0" stroke="#000" stroke-width="0.75" stroke-opacity="0.8"/>
<line x1="363.83" y1="321.1" x2="363.83" y2="335.0" stroke="#000" stroke-width="0.75" stroke-opacity="0.8"/>
<line x1="378.65" y1="321.1" x2="378.65" y2="335.0" stroke="#000" stroke-width="0.75" stroke-opacity="0.8"/>
<line x1="393.47" y1="321.1" x2="393.47" y2="335.0" stroke="#000" stroke-width="0.75" stroke-opacity="0.8"/>
<line x1="408.28" y1="321.1" x2="408.28" y2="335.0" stroke="#000" stroke-width="0.75" stroke-opacity="0.8"/>
<line x1="423.10" y1="321.1" x2="423.10" y2="335.0" stroke="#000" stroke-width="0.75" stroke-opacity="0.8"/>
<line x1="437.92" y1="321.1" x2="437.92" y2="335.0" stroke="#000" stroke-width="0.75" stroke-opacity="0.8"/>
<line x1="452.74" y1="321.1" x2="452.74" y2="335.0" stroke="#000" stroke-width="0.75" stroke-opacity="0.8"/>
<line x1="467.56" y1="321.1" x2="467.56" y2="335.0" stroke="#000" stroke-width="0.75" stroke-opacity="0.8"/>
<line x1="482.38" y1="321.1" x2="482.38" y2="335.0" stroke="#000" stroke-width="0.75" stroke-opacity="0.8"/>
<rect x="111.9" y="321.1" width="385.30" height="13.899999999999977" fill="none" stroke="#000" stroke-width="1.1"/>
<text x="126.72" y="348.2" text-anchor="middle" font-size="13" font-family="Liberation Serif, serif">-1.2</text>
<text x="156.36" y="348.2" text-anchor="middle" font-size="13" font-family="Liberation Serif, serif">-1</text>
<text x="186.00" y="348.2" text-anchor="middle" font-size="13" font-family="Liberation Serif, serif">-0.8</text>
<text x="215.63" y="348.2" text-anchor="middle" font-size="13" font-family="Liberation Serif, serif">-0.6</text>
<text x="245.27" y="348.2" text-anchor="middle" font-size="13" font-family="Liberation Serif, serif">-0.4</text>
<text x="274.91" y="348.2" text-anchor="middle" font-size="13" font-family="Liberation Serif, serif">-0.2</text>
<text x="304.55" y="348.2" text-anchor="middle" font-size="13" font-family="Liberation Serif, serif">0</text>
<text x="334.19" y="348.2" text-anchor="middle" font-size="13" font-family="Liberation Serif, serif">0.2</text>
<text x="363.83" y="348.2" text-anchor="middle" font-size="13" font-family="Liberation Serif, serif">0.4</text>
<text x="393.47" y="348.2" text-anchor="middle" font-size="13" font-family="Liberation Serif, serif">0.6</text>
<text x="423.10" y="348.2" text-anchor="middle" font-size="13" font-family="Liberation Serif, serif">0.8</text>
<text x="452.74" y="348.2" text-anchor="middle" font-size="13" font-family="Liberation Serif, serif">1</text>
<text x="482.38" y="348.2" text-anchor="middle" font-size="13" font-family="Liberation Serif, serif">1.2</text>
</svg>
</body></html>
